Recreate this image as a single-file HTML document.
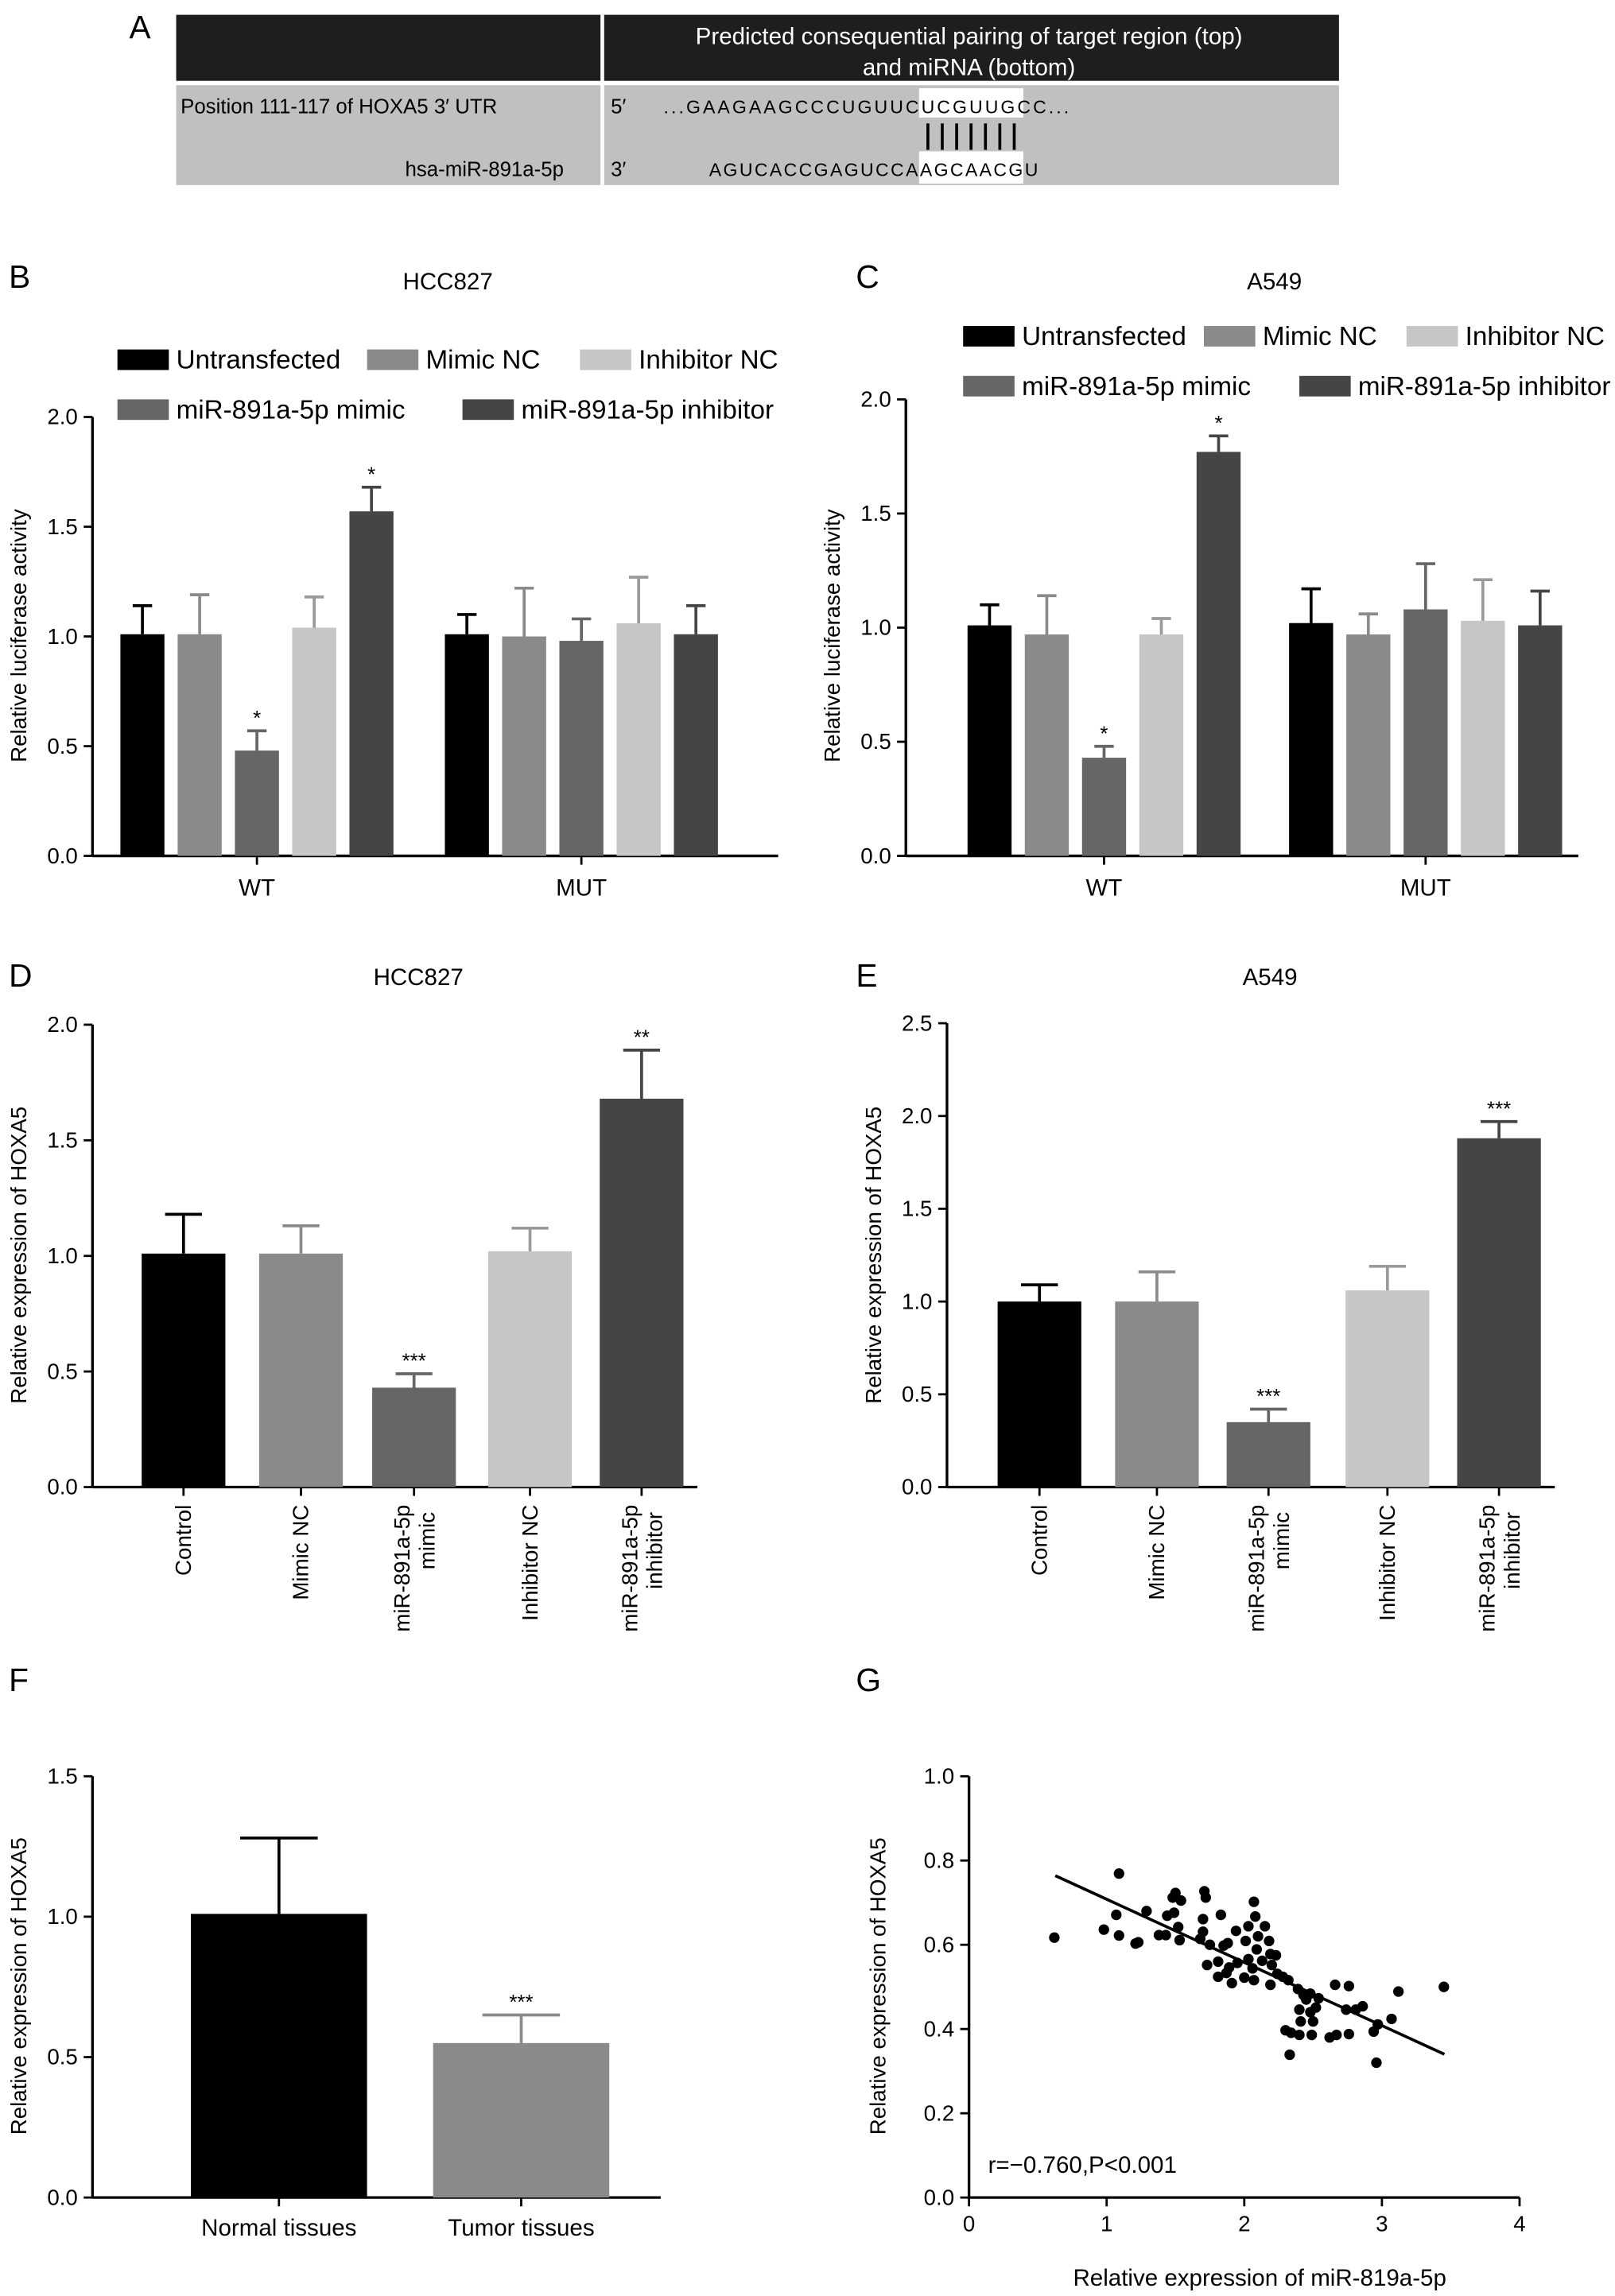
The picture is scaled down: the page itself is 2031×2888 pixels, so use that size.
<!DOCTYPE html>
<html><head><meta charset="utf-8"><style>
html,body{margin:0;padding:0;background:#fff}
svg{display:block;font-family:"Liberation Sans",Arial,sans-serif}
</style></head><body>
<svg id="fig" width="2031" height="2888" viewBox="0 0 1100 1564" xmlns="http://www.w3.org/2000/svg">
<g>
<text x="88" y="26" font-size="22">A</text>
<rect x="120" y="10" width="792" height="45" fill="#1e1e1e"/>
<rect x="120" y="58" width="792" height="68" fill="#c0c0c0"/>
<rect x="409" y="10" width="2.5" height="116" fill="#fff"/>
<text x="660" y="30" font-size="16" fill="#fff" text-anchor="middle">Predicted consequential pairing of target region (top)</text>
<text x="660" y="51" font-size="16" fill="#fff" text-anchor="middle">and miRNA (bottom)</text>
<rect x="626" y="60" width="71" height="20" fill="#fff"/>
<rect x="626" y="103" width="71" height="22" fill="#fff"/>
<text x="123" y="77" font-size="14">Position 111-117 of HOXA5 3′ UTR</text>
<text x="384" y="120" font-size="14" text-anchor="end">hsa-miR-891a-5p</text>
<text x="416" y="77" font-size="14">5′</text>
<text x="416" y="120" font-size="14">3′</text>
<text x="452" y="77" font-size="12.5" textLength="276">...GAAGAAGCCCUGUUCUCGUUGCC...</text>
<text x="483" y="120" font-size="12.5" textLength="224">AGUCACCGAGUCCAAGCAACGU</text>
<g id="pairs"></g>
</g>
<g id="charts"></g>
</svg>
<script>
// Panel B (HCC827 luciferase)
const bGroups = ["WT","MUT"];
const bValues = [[1.01,1.01,0.48,1.04,1.57],[1.01,1.00,0.98,1.06,1.01]];
const bErrors = [[0.13,0.18,0.09,0.14,0.11],[0.09,0.22,0.10,0.21,0.13]];
const bStars = [["","","*","","*"],["","","","",""]];
// Panel C (A549 luciferase)
const cValues = [[1.01,0.97,0.43,0.97,1.77],[1.02,0.97,1.08,1.03,1.01]];
const cErrors = [[0.09,0.17,0.05,0.07,0.07],[0.15,0.09,0.20,0.18,0.15]];
const cStars = [["","","*","","*"],["","","","",""]];
const legendLabels = ["Untransfected","Mimic NC","miR-891a-5p mimic","Inhibitor NC","miR-891a-5p inhibitor"];
// Panel D / E
const deCategories = [["Control"],["Mimic NC"],["miR-891a-5p","mimic"],["Inhibitor NC"],["miR-891a-5p","inhibitor"]];
const dValues = [1.01,1.01,0.43,1.02,1.68];
const dErrors = [0.17,0.12,0.06,0.10,0.21];
const dStars = ["","","***","","**"];
const eValues = [1.00,1.00,0.35,1.06,1.88];
const eErrors = [0.09,0.16,0.07,0.13,0.09];
const eStars = ["","","***","","***"];
// Panel F
const fCategories = ["Normal tissues","Tumor tissues"];
const fValues = [1.01,0.55];
const fErrors = [0.27,0.10];
const fStars = ["","***"];
// Panel G scatter
const gX = [0.62,1.09,1.07,0.98,1.09,1.21,1.23,1.29,1.38,1.43,1.44,1.48,1.50,1.54,1.49,1.52,1.53,1.71,1.72,1.70,1.70,1.68,1.75,1.73,1.81,1.81,1.83,1.85,1.88,1.89,1.91,1.87,1.94,1.95,2.00,2.03,2.03,2.07,2.08,2.01,2.06,2.07,2.10,2.09,2.13,2.15,2.18,2.19,2.20,2.19,2.23,2.24,2.28,2.32,2.30,2.33,2.34,2.39,2.40,2.41,2.40,2.43,2.45,2.48,2.48,2.49,2.50,2.52,2.54,2.66,2.76,2.62,2.67,2.74,2.76,2.81,2.86,2.94,2.97,2.96,3.07,3.12,3.45];
const gY = [0.617,0.769,0.671,0.636,0.622,0.603,0.606,0.680,0.623,0.623,0.669,0.712,0.723,0.705,0.676,0.642,0.611,0.727,0.712,0.661,0.631,0.614,0.600,0.552,0.560,0.524,0.671,0.598,0.604,0.546,0.509,0.533,0.633,0.557,0.522,0.566,0.644,0.702,0.667,0.609,0.544,0.516,0.620,0.589,0.562,0.644,0.609,0.578,0.552,0.505,0.575,0.531,0.524,0.516,0.397,0.339,0.391,0.495,0.446,0.418,0.386,0.481,0.470,0.484,0.440,0.386,0.418,0.451,0.473,0.505,0.502,0.380,0.386,0.446,0.388,0.446,0.454,0.394,0.411,0.320,0.424,0.489,0.500];
const gLine = [[0.627,0.764],[3.454,0.340]];
const gXTicks = [0,1,2,3,4];
const gYTicks = [0,0.2,0.4,0.6,0.8,1.0];

const colors = ["#000000","#8a8a8a","#666666","#c6c6c6","#454545"];
const NS = "http://www.w3.org/2000/svg";
const root = document.getElementById("charts");
function mk(tag, attrs, parent, txt){
  const e = document.createElementNS(NS, tag);
  for (const k in attrs) e.setAttribute(k, attrs[k]);
  if (txt !== undefined) e.textContent = txt;
  (parent || root).appendChild(e);
  return e;
}
const pg = document.getElementById("pairs");
for (let i = 0; i < 7; i++) {
  const l = mk("line", {x1: 632 + i*9.8, x2: 632 + i*9.8, y1: 84, y2: 102, stroke: "#000", "stroke-width": 2}, pg);
  
  
}
function yAxis(g, x0, yb, yt, maxV, step, xEnd, name){
  const s = v => yb - v/maxV*(yb-yt);
  const ax = mk("line", {x1:x0,x2:x0,y1:yb,y2:yt,stroke:"#000","stroke-width":1.8}, g);
  
  
  const bx = mk("line", {x1:x0,x2:xEnd,y1:yb,y2:yb,stroke:"#000","stroke-width":1.8}, g);
  
  
  for (let v = 0; v <= maxV + 1e-9; v += step) {
    const y = s(v);
    mk("line", {x1:x0-6,x2:x0,y1:y,y2:y,stroke:"#000","stroke-width":1.5}, g);
    const t = mk("text", {x:x0-10,y:y+5,"font-size":15,"text-anchor":"end"}, g, v.toFixed(1));
    
    
  }
  return s;
}
function bar(g, cx, w, v, err, color, s, star, name){
  const r = mk("rect", {x:cx-w/2,y:s(v),width:w,height:s(0)-s(v),fill:color}, g);
  
  
  const ye = s(v+err);
  const eb = mk("path", {d:`M${cx},${s(v)}V${ye}M${cx-w*0.22},${ye}H${cx+w*0.22}`,stroke:color==="#c6c6c6"?"#9a9a9a":color,"stroke-width":2,fill:"none"}, g);
  
  
  if (star) {
    const t = mk("text", {x:cx,y:ye-4,"font-size":14,"text-anchor":"middle"}, g, star);
    
    
  }
}
function label(g, x, y, txt, size, name, anchor, rot){
  const a = {x:x,y:y,"font-size":size,"text-anchor":anchor||"middle"};
  if (rot) a.transform = `rotate(-90 ${x} ${y})`;
  const t = mk("text", a, g, txt);
  
  
  return t;
}
function legend(g, items, name){
  items.forEach(it => {
    const r = mk("rect", {x:it[0],y:it[1]-7,width:35,height:14,fill:colors[it[2]]}, g);
    
    
    label(g, it[0]+40, it[1]+6, legendLabels[it[2]], 18, name+'-legend-entry', "start");
  });
}
function luciferase(name, letter, lx, title, tx, axX, yTop, xEnd, centers, vals, errs, stars, leg){
  const g = mk("g", {});  
  label(g, lx, 196, letter, 22, name+'-label', "start");
  label(g, tx, 197, title, 16, name+'-title');
  legend(g, leg, name);
  const s = yAxis(g, axX, 583, yTop, 2.0, 0.5, xEnd, name);
  label(g, axX-45, 433, "Relative luciferase activity", 15, name+'-y-axis-title', "middle", true);
  bGroups.forEach((grp, gi) => {
    vals[gi].forEach((v, i) => bar(g, centers[gi] + (i-2)*39, 30, v, errs[gi][i], colors[i], s, stars[gi][i], name+'-bar-'+grp.toLowerCase()+'-'+i));
    mk("line", {x1:centers[gi],x2:centers[gi],y1:583,y2:589,stroke:"#000","stroke-width":1.5}, g);
    label(g, centers[gi], 610, grp, 16, name+'-x-tick-label');
  });
}
luciferase("panel-b","B",6,"HCC827",305,63,284,530,[175,396],bValues,bErrors,bStars,[[80,245,0],[250,245,1],[395,245,3],[80,279,2],[315,279,4]]);
luciferase("panel-c","C",583,"A549",868,617,272,1075,[752,971],cValues,cErrors,cStars,[[656,229,0],[820,229,1],[958,229,3],[656,263,2],[885,263,4]]);

function expression(name, letter, lx, title, tx, axX, yTop, maxV, centers, vals, errs, stars){
  const g = mk("g", {});  
  label(g, lx, 672, letter, 22, name+'-label', "start");
  label(g, tx, 671, title, 16, name+'-title');
  const s = yAxis(g, axX, 1013, yTop, maxV, 0.5, centers[4]+38, name);
  label(g, axX-45, 855, "Relative expression of HOXA5", 15, name+'-y-axis-title', "middle", true);
  vals.forEach((v, i) => {
    bar(g, centers[i], 57, v, errs[i], colors[i], s, stars[i], name+'-bar-'+i);
    mk("line", {x1:centers[i],x2:centers[i],y1:1013,y2:1019,stroke:"#000","stroke-width":1.5}, g);
    const lines = deCategories[i];
    if (lines.length === 1) label(g, centers[i]+5, 1025, lines[0], 15, name+'-x-tick-label', "end", true);
    else {
      label(g, centers[i]-3, 1025, lines[0], 15, name+'-x-tick-label', "end", true);
      label(g, centers[i]+14, 1030, lines[1], 15, name+'-x-tick-label', "end", true);
    }
  });
}
expression("panel-d","D",6,"HCC827",285,63,698,2.0,[125,205,282,361,437],dValues,dErrors,dStars);
expression("panel-e","E",583,"A549",865,645,697,2.5,[708,788,864,945,1021],eValues,eErrors,eStars);

(function(){
  const g = mk("g", {});  
  label(g, 6, 1152, "F", 22, 'panel-f-label', "start");
  const s = yAxis(g, 63, 1497, 1210, 1.5, 0.5, 450, 'panel-f');
  label(g, 18, 1353, "Relative expression of HOXA5", 15, 'panel-f-y-axis-title', "middle", true);
  const centers = [190, 355];
  fValues.forEach((v, i) => {
    bar(g, centers[i], 120, v, fErrors[i], colors[i], s, fStars[i], 'panel-f-bar-'+i);
    mk("line", {x1:centers[i],x2:centers[i],y1:1497,y2:1503,stroke:"#000","stroke-width":1.5}, g);
    label(g, centers[i], 1523, fCategories[i], 16, 'panel-f-x-tick-label');
  });
})();

(function(){
  const g = mk("g", {});  
  label(g, 583, 1152, "G", 22, 'panel-g-label', "start");
  const x0 = 660, yb = 1497, yt = 1210, xr = 1035;
  const sx = v => x0 + v/4*(xr-x0);
  const sy = v => yb - v*(yb-yt);
  mk("path", {d:`M${x0},${yt}V${yb}H${xr}`,stroke:"#000","stroke-width":1.8,fill:"none"}, g);
  gYTicks.forEach(v => {
    mk("line", {x1:x0-6,x2:x0,y1:sy(v),y2:sy(v),stroke:"#000","stroke-width":1.5}, g);
    label(g, x0-10, sy(v)+5, v.toFixed(1), 15, 'panel-g-y-tick-label', "end");
  });
  gXTicks.forEach(v => {
    mk("line", {x1:sx(v),x2:sx(v),y1:yb,y2:yb+6,stroke:"#000","stroke-width":1.5}, g);
    label(g, sx(v), yb+23, String(v), 15, 'panel-g-x-tick-label');
  });
  label(g, 858, 1557, "Relative expression of miR-819a-5p", 16, 'panel-g-x-axis-title');
  label(g, 603, 1353, "Relative expression of HOXA5", 15, 'panel-g-y-axis-title', "middle", true);
  const ln = mk("line", {x1:sx(gLine[0][0]),y1:sy(gLine[0][1]),x2:sx(gLine[1][0]),y2:sy(gLine[1][1]),stroke:"#000","stroke-width":2}, g);
  
  
  gX.forEach((x, i) => {
    const c = mk("circle", {cx:sx(x),cy:sy(gY[i]),r:3.6,fill:"#000"}, g);
    
    
  });
  label(g, 673, 1480, "r=−0.760,P<0.001", 16, 'correlation-annotation', "start");
})();
</script>
</body></html>
